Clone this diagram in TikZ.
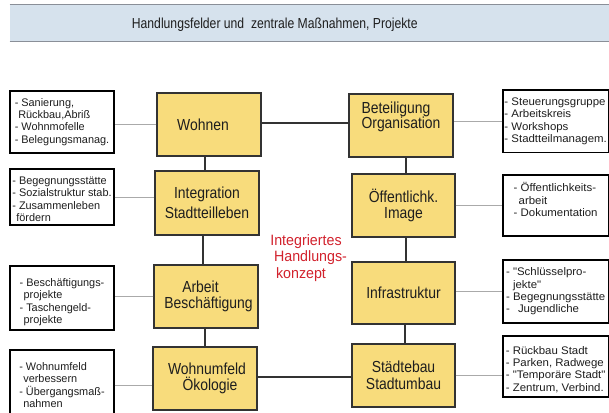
\documentclass[tikz,border=0pt]{standalone}
\usepackage{fontspec}
\setmainfont{Liberation Sans}
\newfontfamily\hdrfont[FakeStretch=0.84]{Liberation Sans}
\newfontfamily\ylwfont[FakeStretch=0.87]{Liberation Sans}
\newfontfamily\rdfont[FakeStretch=0.95]{Liberation Sans}
\newfontfamily\lboxfont[FakeStretch=0.99]{Liberation Sans}
\newfontfamily\rboxfont[FakeStretch=1.04]{Liberation Sans}
\definecolor{yfill}{HTML}{F8DC7C}
\definecolor{yline}{HTML}{333333}
\definecolor{hfill}{HTML}{D6E2ED}
\definecolor{hline}{HTML}{8A8F98}
\definecolor{cgray}{HTML}{AAAAAA}
\definecolor{kred}{HTML}{D2222D}
\definecolor{ink}{HTML}{1E1E1E}
\newcommand\liftbox[3]{\raisebox{#1}[0pt][0pt]{\parbox[c]{#2}{#3}}}
\newcommand\plainbox[2]{\parbox[c]{#1}{#2}}
\begin{document}
\begin{tikzpicture}[x=1pt,y=-1pt,
  ybox/.style={draw=yline, fill=yfill, line width=1.3pt, inner sep=0pt, align=center, text=ink,
    font=\ylwfont\fontsize{16}{16.5}\selectfont, minimum width=104pt, minimum height=63pt},
  sbox/.style={draw=black, line width=1.1pt, fill=white, inner sep=0pt, text=ink},
  lbox/.style={sbox, font=\lboxfont\fontsize{11}{12.3}\selectfont, minimum width=104pt},
  rbox/.style={sbox, font=\rboxfont\fontsize{11}{12.3}\selectfont, minimum width=105.3pt},
  gconn/.style={draw=cgray, line width=1pt},
  kconn/.style={draw=yline, line width=1.3pt}]
\useasboundingbox (0,0) rectangle (609,412);
\fill[white] (0,0) rectangle (609,412);
% header
\node[fill=hfill, minimum width=600pt, minimum height=36pt, inner sep=0pt,
  font=\hdrfont\fontsize{14.5}{16}\selectfont, text=ink] (header) at (309.75,23)
  {\rule{0pt}{13.8pt}Handlungsfelder und\ \ zentrale Maßnahmen, Projekte\hspace*{70pt}};
\draw[hline, line width=1.3pt] (header.north west) -- (header.north east);
\draw[hline, line width=1.3pt] (header.south west) -- (header.south east);
% yellow boxes
\node[ybox] (wohnen) at (209,124.5) {Wohnen\hspace*{12pt}};
\node[ybox] (bet) at (401,125.5) {\liftbox{4.5pt}{74pt}{\baselineskip=15pt\lineskiplimit=-10pt\hbox{Beteiligung}\hbox{Organisation}}};
\node[ybox, minimum height=64pt] (integ) at (207,203) {Integration\\[3.5pt]Stadtteilleben};
\node[ybox, minimum width=103pt] (oeff) at (403.5,205.5) {Öffentlichk.\\Image};
\node[ybox] (arbeit) at (206,296.5) {Arbeit\hspace*{11pt}\\\hspace*{5pt}Beschäftigung};
\node[ybox, minimum width=103pt, minimum height=62pt] (infra) at (403.5,293) {Infrastruktur};
\node[ybox] (wohnumf) at (205,378.5) {\hspace*{4pt}Wohnumfeld\\\hspace*{10pt}Ökologie};
\node[ybox, minimum width=103pt] (staedte) at (403.5,375.5) {Städtebau\\Stadtumbau};
% centre text
\node[font=\rdfont\fontsize{15}{16.5}\selectfont, text=kred, align=center] (concept) at (306,258)
  {Integriertes\\\hspace*{9pt}Handlungs-\\konzept\hspace*{10pt}};
% left boxes
\node[lbox, minimum height=62pt] (l1) at (62,122) {\plainbox{100pt}{\hbox{- Sanierung,}\hbox{\hspace{3.5pt}Rückbau,Abriß}\hbox{- Wohnmofelle}\hbox{- Belegungsmanag.}}};
\node[lbox, minimum height=56pt] (l2) at (62,197) {\liftbox{-5pt}{100pt}{\hbox{- Begegnungsstätte}\hbox{- Sozialstruktur stab.}\hbox{- Zusammenleben}\hbox{\hspace{4pt}fördern}}};
\node[lbox, minimum height=64pt] (l3) at (62,298) {\liftbox{-7pt}{100pt}{\hbox{- Beschäftigungs-}\hbox{\hspace{4pt}projekte}\hbox{- Taschengeld-}\hbox{\hspace{4pt}projekte}}};
\node[lbox, minimum height=63.5pt] (l4) at (62,381.75) {\liftbox{-6pt}{100pt}{\hbox{- Wohnumfeld}\hbox{\hspace{4pt}verbessern}\hbox{- Übergangsmaß-}\hbox{\hspace{4pt}nahmen}}};
% right boxes
\node[rbox, minimum height=62.7pt] (r1) at (555.65,121.3) {\plainbox{103pt}{\hbox{- Steuerungsgruppe}\hbox{- Arbeitskreis}\hbox{- Workshops}\hbox{- Stadtteilmanagem.}}};
\node[rbox, minimum height=61pt] (r2) at (555.65,205.5) {\liftbox{3.25pt}{94.7pt}{\hbox{- Öffentlichkeits-}\hbox{\hspace{5pt}arbeit}\hbox{- Dokumentation}}};
\node[rbox, minimum height=63pt] (r3) at (555.65,291.5) {\plainbox{103pt}{\hbox{- "Schlüsselpro-}\hbox{\hspace{7pt}jekte"}\hbox{- Begegnungsstätte}\hbox{- \hspace{5pt}Jugendliche}}};
\node[rbox, minimum height=61pt] (r4) at (555.65,366.5) {\liftbox{-5.75pt}{103pt}{\hbox{- Rückbau Stadt}\hbox{- Parken, Radwege}\hbox{- "Temporäre Stadt"}\hbox{- Zentrum, Verbind.}}};
% grey connectors
\draw[gconn] (wohnen.west) -- (wohnen.west -| l1.east);
\draw[gconn] (l2.east) -- (l2.east -| integ.west);
\draw[gconn] (arbeit.west) -- (arbeit.west -| l3.east);
\draw[gconn] ([yshift=-3.25pt]l4.east) -- ([yshift=-3.25pt]l4.east -| wohnumf.west);
\draw[gconn] (r1.west) -- (r1.west -| bet.east);
\draw[gconn] (oeff.east) -- (oeff.east -| r2.west);
\draw[gconn] (r3.west) -- (r3.west -| infra.east);
\draw[gconn] (staedte.east) -- (staedte.east -| r4.west);
% black connectors
\draw[kconn] ([yshift=1.5pt]wohnen.east) -- ([yshift=1.5pt]wohnen.east -| bet.west);
\draw[kconn] ([xshift=-4pt]wohnen.south) -- ([xshift=-4pt]wohnen.south |- integ.north);
\draw[kconn] ([xshift=-3pt]arbeit.north) -- ([xshift=-3pt]arbeit.north |- integ.south);
\draw[kconn] (wohnumf.north) -- (wohnumf.north |- arbeit.south);
\draw[kconn] ([yshift=1.5pt]wohnumf.east) -- ([yshift=1.5pt]wohnumf.east -| staedte.west);
\draw[kconn] ([xshift=5pt]bet.south) -- ([xshift=5pt]bet.south |- oeff.north);
\draw[kconn] ([xshift=2.5pt]oeff.south) -- ([xshift=2.5pt]oeff.south |- infra.north);
\draw[kconn] ([xshift=1.5pt]infra.south) -- ([xshift=1.5pt]infra.south |- staedte.north);
\end{tikzpicture}
\end{document}
